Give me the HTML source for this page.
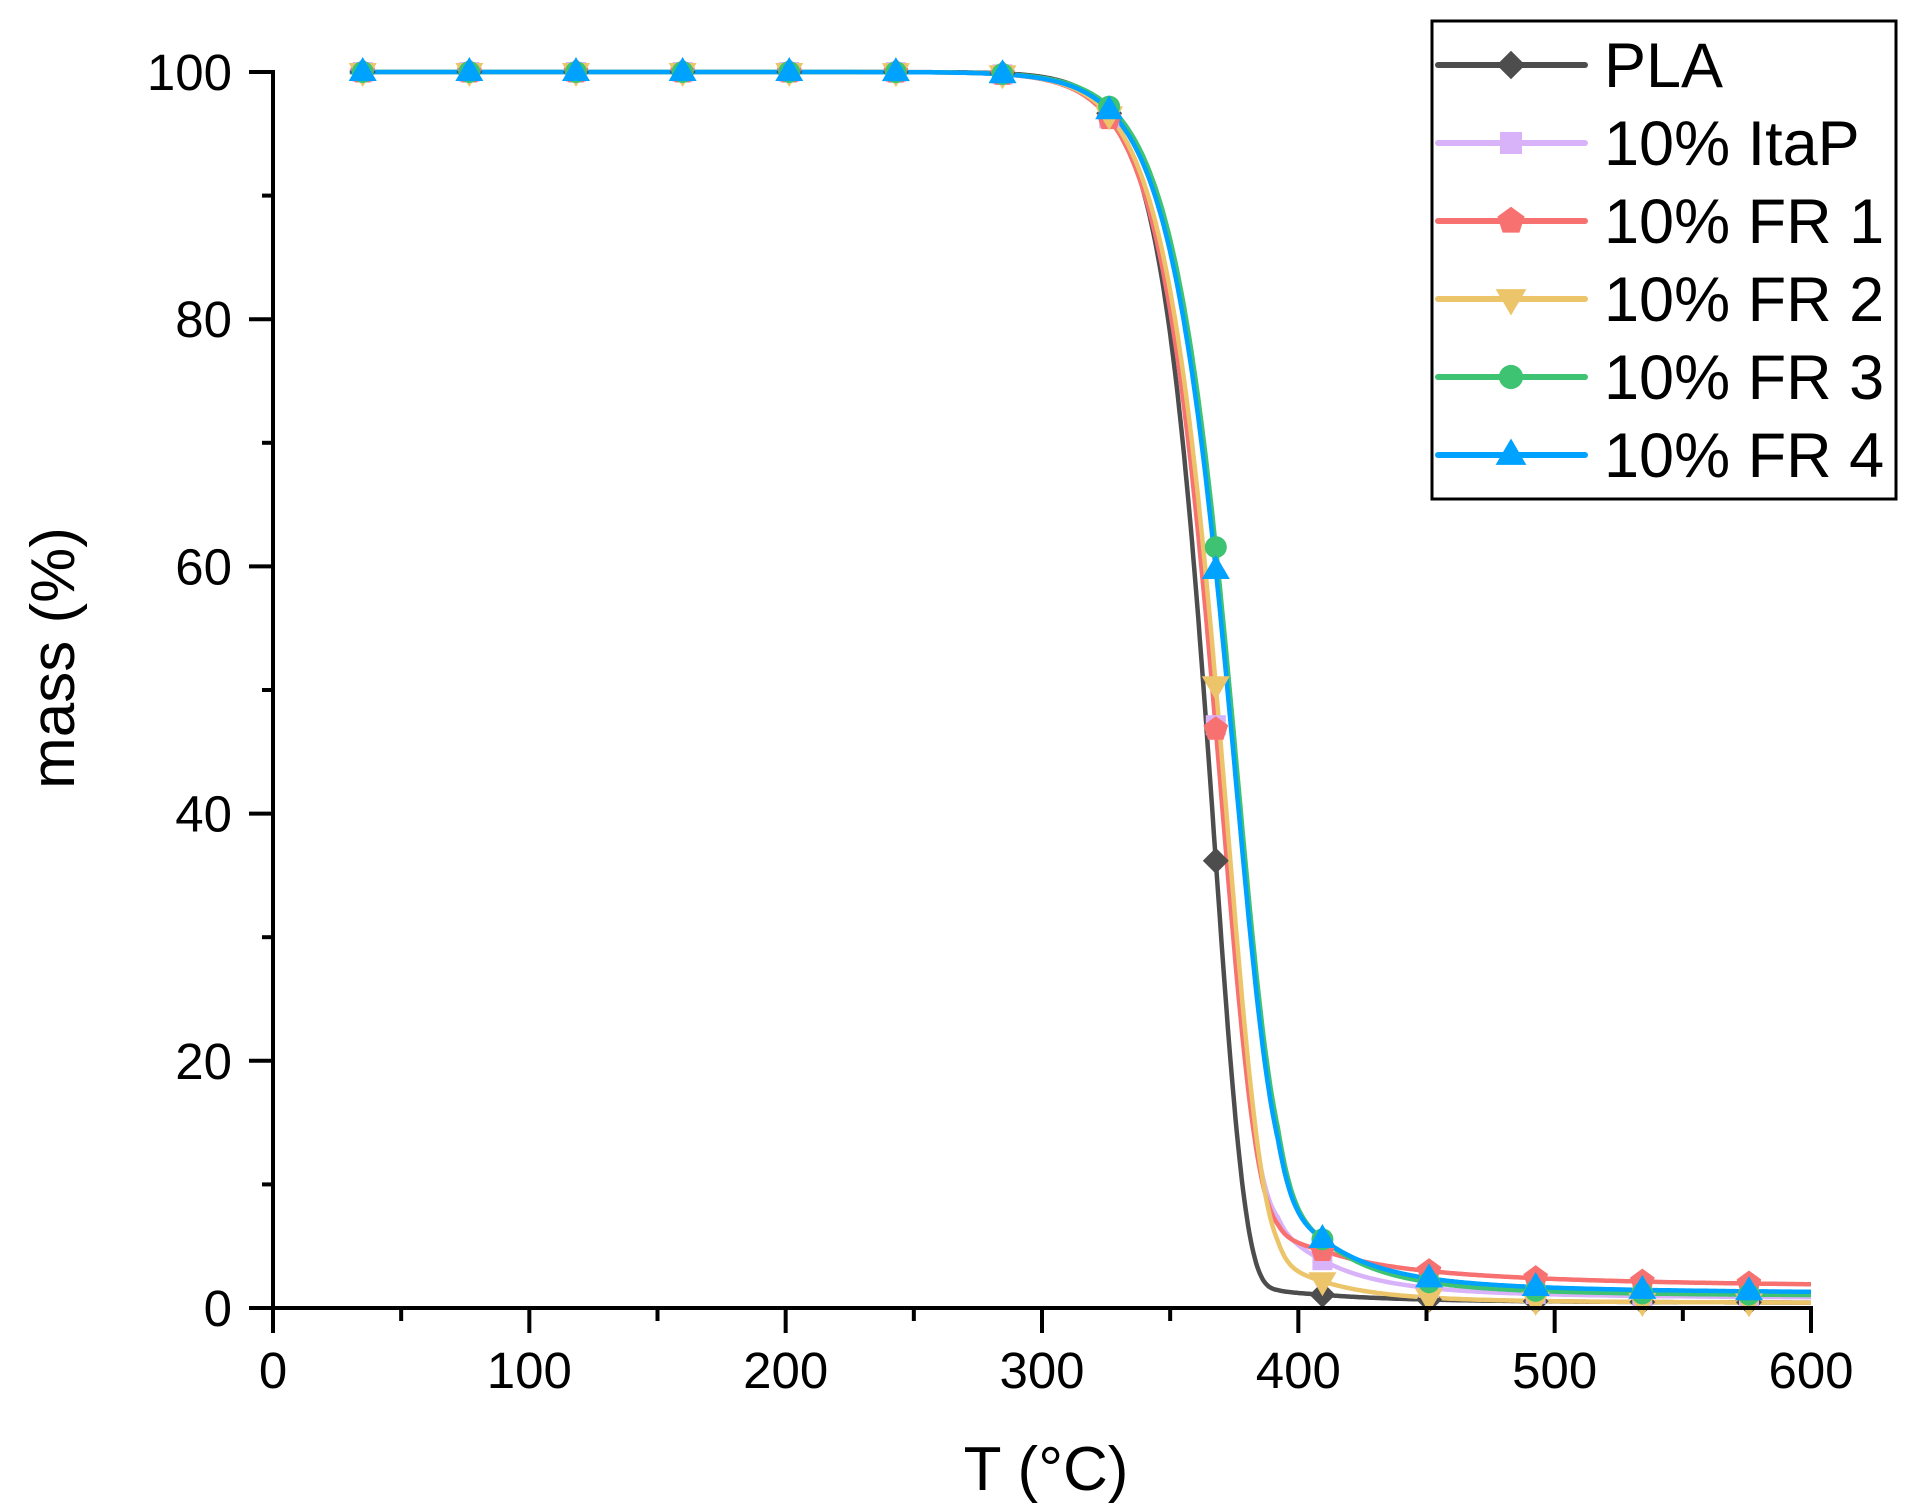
<!DOCTYPE html>
<html><head><meta charset="utf-8"><style>
html,body{margin:0;padding:0;background:#fff;}
svg{display:block;font-family:"Liberation Sans",Arial,sans-serif;}
</style></head><body>
<svg id="s" width="1919" height="1511" viewBox="0 0 1919 1511" xmlns="http://www.w3.org/2000/svg">
<rect width="1919" height="1511" fill="#fff"/>
<g id="plot"></g>
<g stroke="#000" stroke-width="4" fill="none">
<line x1="273" y1="70" x2="273" y2="1310"/>
<line x1="249" y1="1308" x2="1813" y2="1308"/>
</g>
<g id="axes"></g>
<text x="1046" y="1490" font-size="62" text-anchor="middle">T (°C)</text>
<text transform="translate(74,658) rotate(-90)" font-size="62" text-anchor="middle">mass (%)</text>
<rect x="1432" y="21" width="464" height="478" fill="#fff" stroke="#000" stroke-width="3"/>
<g id="leg"></g>
</svg>
<script>
var NS="http://www.w3.org/2000/svg";
var XR=1811;
function X(t){return 273+t*(XR-273)/600;}
function Y(m){return 1308-m*(1308-72)/100;}
function el(p,tag,a,txt){var e=document.createElementNS(NS,tag);for(var k in a)e.setAttribute(k,a[k]);if(txt!==undefined)e.textContent=txt;p.appendChild(e);return e;}
var ax=document.getElementById('axes');
for(var i=0;i<=6;i++){var x=X(i*100);el(ax,'line',{x1:x,y1:1308,x2:x,y2:1333,stroke:'#000','stroke-width':4});
el(ax,'text',{x:x,y:1388,'font-size':51,'text-anchor':'middle'},String(i*100));
if(i<6){var xm=X(i*100+50);el(ax,'line',{x1:xm,y1:1308,x2:xm,y2:1321,stroke:'#000','stroke-width':4});}}
for(var i=0;i<=5;i++){var y=Y(i*20);el(ax,'line',{x1:249,y1:y,x2:273,y2:y,stroke:'#000','stroke-width':4});
el(ax,'text',{x:232,y:y+18,'font-size':51,'text-anchor':'end'},String(i*20));
if(i<5){var ym=Y(i*20+10);el(ax,'line',{x1:262,y1:ym,x2:273,y2:ym,stroke:'#000','stroke-width':4});}}
var S=[
{n:'PLA',c:'#4d4d4d',Tc:367.3,w:12.2,r:0.5,A:0.6,m:'diamond'},
{n:'10% ItaP',c:'#d8b3fa',Tc:370.3,w:13.8,r:1.0,A:5,m:'square'},
{n:'10% FR 1',c:'#f87171',Tc:370.3,w:13.8,r:2.2,A:2.5,m:'pent'},
{n:'10% FR 2',c:'#ecc56b',Tc:372.3,w:14.0,r:0.5,A:3,m:'tdown'},
{n:'10% FR 3',c:'#3ec373',Tc:376.3,w:14.5,r:1.2,A:8,m:'circle'},
{n:'10% FR 4',c:'#00a2ff',Tc:375.6,w:14.7,r:1.5,A:7,m:'tup'}];
function f(s,T){var z=(T-s.Tc)/s.w;var g=Math.exp(-Math.exp(z));var tail=s.A*(1-g)*Math.exp(-Math.max(0,T-392)/22);var lt=0.8*s.r*Math.exp(-(T-410)/80);if(T<410)lt=0.8*s.r;return s.r*0.8+lt*(1-g)+(100-s.r*0.8)*g+tail*g*0+tail;}
function mk(p,type,x,y,c,sz){sz=sz||1;var r=13*sz;
if(type=='diamond')el(p,'polygon',{points:[x,y-r,x+r,y,x,y+r,x-r,y].join(' '),fill:c});
else if(type=='square')el(p,'rect',{x:x-10*sz,y:y-10*sz,width:20*sz,height:20*sz,fill:c});
else if(type=='pent'){var pts=[];for(var k=0;k<5;k++){var a=-Math.PI/2+k*2*Math.PI/5;pts.push(x+r*Math.cos(a),y+r*Math.sin(a));}el(p,'polygon',{points:pts.join(' '),fill:c});}
else if(type=='tdown')el(p,'polygon',{points:[x-14*sz,y-9*sz,x+14*sz,y-9*sz,x,y+15*sz].join(' '),fill:c});
else if(type=='tup')el(p,'polygon',{points:[x-14*sz,y+9*sz,x+14*sz,y+9*sz,x,y-15*sz].join(' '),fill:c});
else el(p,'circle',{cx:x,cy:y,r:11*sz,fill:c});}
var pl=document.getElementById('plot');
S.forEach(function(s){var d='';for(var T=30;T<=600;T+=0.5){d+=(T==30?'M':'L')+X(T).toFixed(1)+' '+Y(f(s,T)).toFixed(1);}
el(pl,'path',{d:d,stroke:s.c,'stroke-width':4.5,fill:'none','stroke-linejoin':'round'});});
S.forEach(function(s){for(var k=0;k<14;k++){var T=35+k*41.6;mk(pl,s.m,X(T),Y(f(s,T)),s.c);}});
var lg=document.getElementById('leg');
S.forEach(function(s,i){var y=65+i*78;el(lg,'line',{x1:1438,y1:y,x2:1585,y2:y,stroke:s.c,'stroke-width':6,'stroke-linecap':'round'});
mk(lg,s.m,1511,y,s.c,1.1);el(lg,'text',{x:1604,y:y+22,'font-size':63},s.n);});
</script>
</body></html>
